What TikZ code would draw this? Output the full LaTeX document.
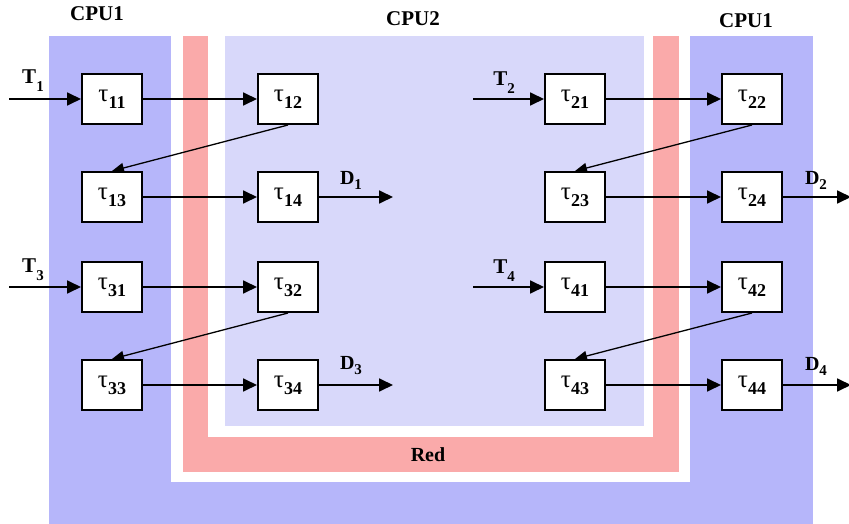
\documentclass[tikz,border=0pt]{standalone}
\usepackage{fontspec}
\setmainfont{Liberation Serif}
\usetikzlibrary{arrows.meta}

\definecolor{cpuone}{RGB}{182,182,250}
\definecolor{cputwo}{RGB}{216,216,250}
\definecolor{redzone}{RGB}{250,170,170}

\newcommand{\tsk}[1]{{\fontsize{25}{25}\selectfont τ}\raisebox{-7pt}{\fontsize{18}{18}\selectfont\bfseries #1}}
\newcommand{\lbl}[3]{\textbf{#1}\raisebox{-#3}{\fontsize{15}{15}\selectfont\bfseries #2}}

\tikzset{
  taskbox/.style={draw,line width=2pt,fill=white,minimum width=60pt,minimum height=50pt,inner sep=0pt},
  flow/.style={->,line width=1.8pt},
  cross/.style={-{Triangle[length=12pt,width=10pt]},line width=1.3pt},
  tag/.style={font=\fontsize{21}{21}\selectfont\bfseries,inner sep=0pt}
}

\begin{document}
\begin{tikzpicture}[x=1pt,y=-1pt,>={Triangle[length=14pt,width=13pt]}]

\useasboundingbox (0,0) rectangle (849,524);

% processor areas
\fill[cpuone] (49,36) rectangle (813,524);
\fill[white] (171,0) rectangle (690,482);
\fill[redzone] (183,36) rectangle (679,472);
\fill[white] (208,36) rectangle (653,437);
\fill[cputwo] (225,36) rectangle (644,426);

% area labels
\node[tag] (cpua) at (97,14) {CPU1};
\node[tag] (cpub) at (413,19) {CPU2};
\node[tag] (cpuc) at (746,21) {CPU1};
\node[tag,font=\fontsize{20}{20}\selectfont\bfseries] (red) at (428,455) {Red};

% tasks of T1 and T3
\node[taskbox] (t11) at (112,99) {\tsk{11}};
\node[taskbox] (t12) at (288,99) {\tsk{12}};
\node[taskbox] (t13) at (112,197) {\tsk{13}};
\node[taskbox] (t14) at (288,197) {\tsk{14}};
\node[taskbox] (t31) at (112,287) {\tsk{31}};
\node[taskbox] (t32) at (288,287) {\tsk{32}};
\node[taskbox] (t33) at (112,385) {\tsk{33}};
\node[taskbox] (t34) at (288,385) {\tsk{34}};

% tasks of T2 and T4
\node[taskbox] (t21) at (575,99) {\tsk{21}};
\node[taskbox] (t22) at (752,99) {\tsk{22}};
\node[taskbox] (t23) at (575,197) {\tsk{23}};
\node[taskbox] (t24) at (752,197) {\tsk{24}};
\node[taskbox] (t41) at (575,287) {\tsk{41}};
\node[taskbox] (t42) at (752,287) {\tsk{42}};
\node[taskbox] (t43) at (575,385) {\tsk{43}};
\node[taskbox] (t44) at (752,385) {\tsk{44}};

% inputs
\coordinate (in1) at (9,99);
\coordinate (in2) at (473,99);
\coordinate (in3) at (9,287);
\coordinate (in4) at (473,287);
\draw[flow] (in1) -- (t11);
\draw[flow] (in2) -- (t21);
\draw[flow] (in3) -- (t31);
\draw[flow] (in4) -- (t41);
\node[tag] (lt1) at (33,81) {\lbl{T}{1}{8pt}};
\node[tag] (lt2) at (504,83) {\lbl{T}{2}{8pt}};
\node[tag] (lt3) at (33,270) {\lbl{T}{3}{8pt}};
\node[tag] (lt4) at (504,271) {\lbl{T}{4}{8pt}};

% chains
\draw[flow] (t11) -- (t12);
\draw[cross] (t12.south) -- (t13.north);
\draw[flow] (t13) -- (t14);
\draw[flow] (t21) -- (t22);
\draw[cross] (t22.south) -- (t23.north);
\draw[flow] (t23) -- (t24);
\draw[flow] (t31) -- (t32);
\draw[cross] (t32.south) -- (t33.north);
\draw[flow] (t33) -- (t34);
\draw[flow] (t41) -- (t42);
\draw[cross] (t42.south) -- (t43.north);
\draw[flow] (t43) -- (t44);

% outputs
\coordinate (out1) at (393,197);
\coordinate (out2) at (851,197);
\coordinate (out3) at (393,385);
\coordinate (out4) at (851,385);
\draw[flow] (t14) -- (out1);
\draw[flow] (t24) -- (out2);
\draw[flow] (t34) -- (out3);
\draw[flow] (t44) -- (out4);
\node[tag,font=\fontsize{20}{20}\selectfont\bfseries] (ld1) at (351,180) {\lbl{D}{1}{5pt}};
\node[tag,font=\fontsize{20}{20}\selectfont\bfseries] (ld2) at (816,180) {\lbl{D}{2}{5pt}};
\node[tag,font=\fontsize{20}{20}\selectfont\bfseries] (ld3) at (351,366) {\lbl{D}{3}{5pt}};
\node[tag,font=\fontsize{20}{20}\selectfont\bfseries] (ld4) at (816,366) {\lbl{D}{4}{5pt}};

\end{tikzpicture}
\end{document}
